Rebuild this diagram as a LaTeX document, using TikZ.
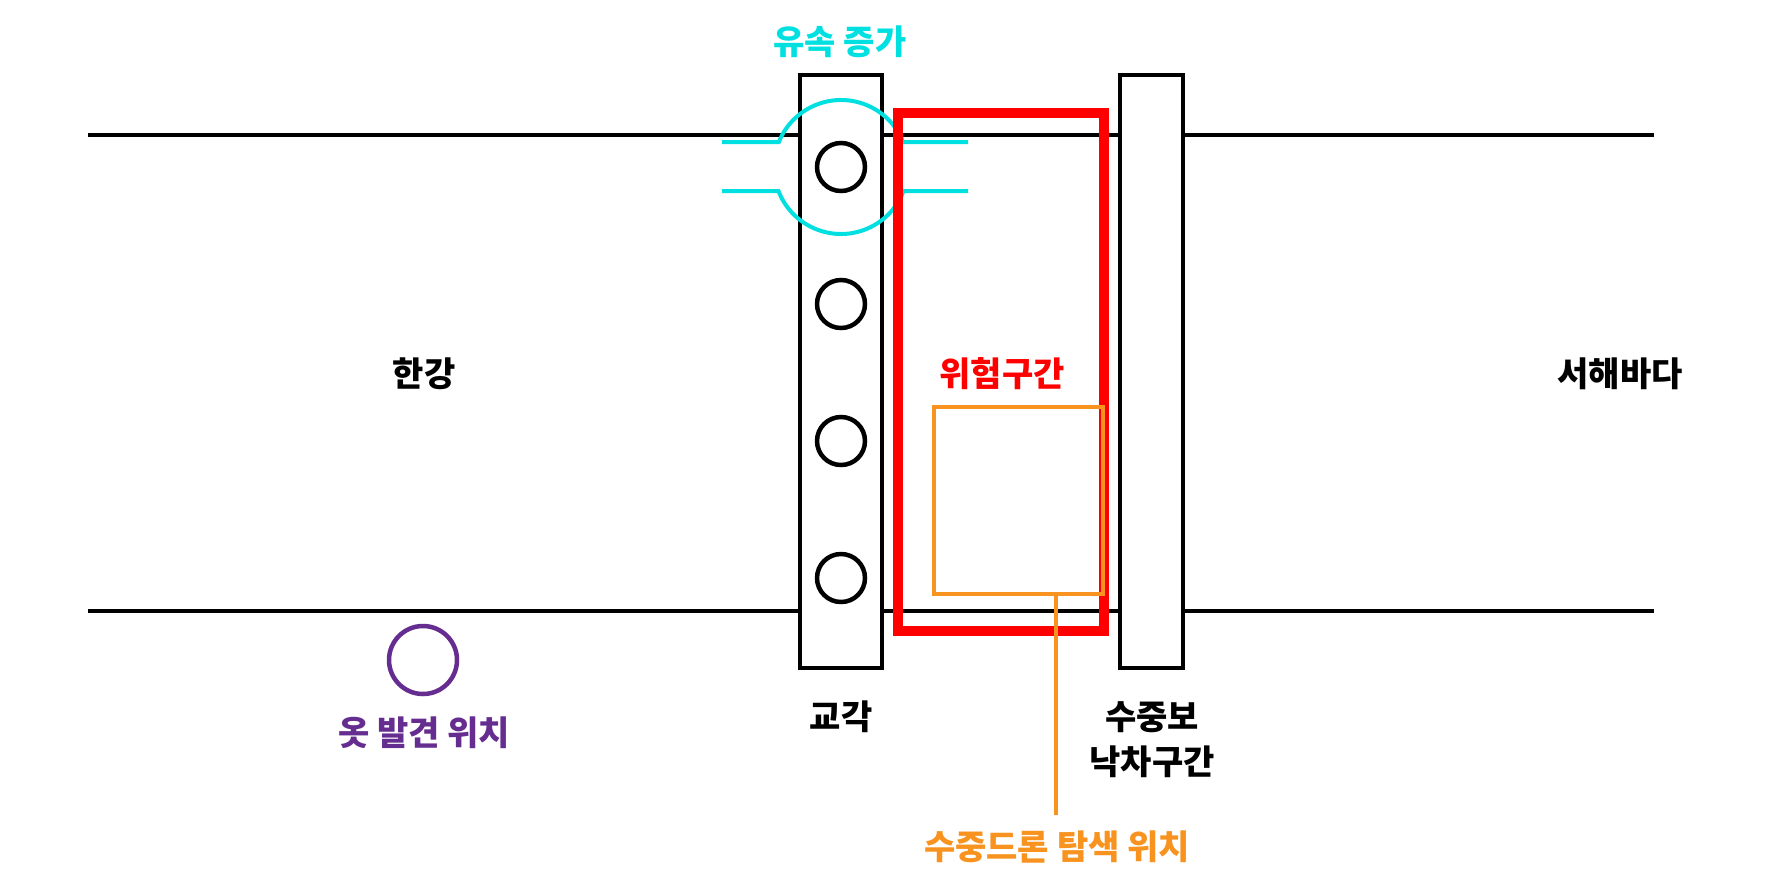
\documentclass[tikz,border=0pt]{standalone}
\usepackage{fontspec}
\setmainfont{Noto Sans CJK KR}
\definecolor{flowc}{RGB}{0,224,224}
\definecolor{dangerc}{RGB}{255,0,0}
\definecolor{dronec}{RGB}{247,147,30}
\definecolor{clothc}{RGB}{102,45,145}
\begin{document}
\begin{tikzpicture}[x=1pt,y=-1pt,
  riverline/.style={line width=4.5pt,black},
  wallbox/.style={draw=black,fill=white,line width=4.5pt,inner sep=0pt,outer sep=0pt},
  hole/.style={draw=black,circle,line width=4.5pt,minimum size=48pt,inner sep=0pt},
  lbl/.style={font=\fontsize{34}{40}\selectfont\bfseries,inner sep=0pt,anchor=center},
  zone/.style={draw=dangerc,line width=9.5pt,inner sep=0pt},
  dronebox/.style={draw=dronec,line width=4.5pt,inner sep=0pt},
  flow/.style={draw=flowc,line width=4pt}]
\fill[white] (0,0) rectangle (1766,895);
\useasboundingbox (0,0) rectangle (1766,895);
% river banks
\draw[riverline] (88,135) -- (1654,135);
\draw[riverline] (88,611) -- (1654,611);
% pier
\node[wallbox,minimum width=82pt,minimum height=593pt] (pier) at (841,371.5) {};
\node[hole] (h1) at (841,167) {};
\node[hole] (h2) at (841,304) {};
\node[hole] (h3) at (841,441) {};
\node[hole] (h4) at (841,578) {};
% weir
\node[wallbox,minimum width=63pt,minimum height=593pt] (weir) at (1151.5,371.5) {};
% flow increase
\draw[flow] (722,142) -- (778.84,142) arc[start angle=201.9,end angle=338.1,radius=67] -- (968,142);
\draw[flow] (722,191) -- (778.45,191) arc[start angle=159,end angle=21,radius=67] -- (968,191);
% danger zone
\node[zone,minimum width=206pt,minimum height=518pt] (danger) at (1001,372) {};
% drone search
\node[dronebox,minimum width=169pt,minimum height=187pt] (drone) at (1018.5,500.5) {};
\coordinate (dend) at (1056,815);
\draw[dronec,line width=4.5pt] (dend |- drone.south) -- (dend);
% found clothes
\node[draw=clothc,circle,line width=4.5pt,minimum size=68pt,inner sep=0pt] (cloth) at (423,660) {};
% labels
\node[lbl,text=flowc] (tflow) at (840,42) {유속 증가};
\node[lbl] (thangang) at (424,374) {한강};
\node[lbl] (tsea) at (1620,374) {서해바다};
\node[lbl,text=dangerc] (tdanger) at (1002,374) {위험구간};
\node[lbl] (tpier) at (841,717) {교각};
\node[lbl,align=center,font=\fontsize{34}{45}\selectfont\bfseries] (tweir) at (1152,739.5) {수중보\\낙차구간};
\node[lbl,text=clothc] (tcloth) at (424,733) {옷 발견 위치};
\node[lbl,text=dronec] (tdrone) at (1057,847) {수중드론 탐색 위치};
\end{tikzpicture}
\end{document}
